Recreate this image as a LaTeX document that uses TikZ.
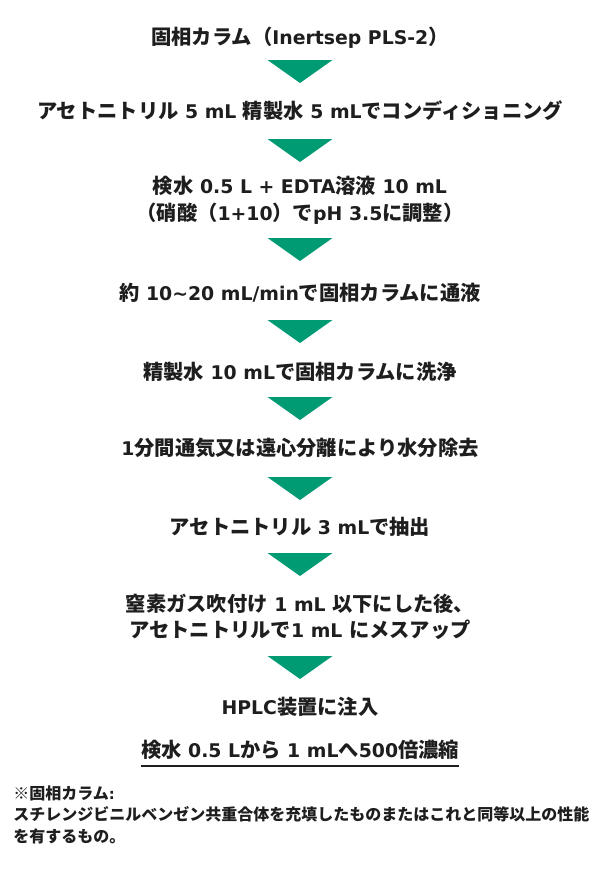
\documentclass[tikz,border=0pt]{standalone}
\usepackage{fontspec}
\setmainfont{Noto Sans CJK JP}
\newfontfamily\lat{DejaVu Sans}[Scale=0.93]
\newcommand\La[1]{{\lat #1}}
\definecolor{txt}{HTML}{1E1E1E}
\definecolor{grn}{HTML}{009A73}
\tikzset{
  stepline/.style={anchor=base,inner sep=0pt,text=txt,font=\fontsize{15.2}{18}\selectfont\bfseries},
  noteline/.style={anchor=base west,inner sep=0pt,text=txt,font=\fontsize{12}{15}\selectfont\bfseries},
  downtri/.style={fill=grn,draw=none}
}
\newcommand\tri[1]{\fill[downtri] (267.5,#1) -- (332.5,#1) -- (300,{#1+23}) -- cycle;}
\begin{document}
\begin{tikzpicture}[x=0.75pt,y=-0.75pt]
\useasboundingbox[fill=white] (0,0) rectangle (600,875);
\node[stepline] (l1) at (300,44) {固相カラム（\La{Inertsep PLS-2}）};
\tri{60}
\node[stepline] (l2) at (300,118) {アセトニトリル\La{ 5 mL }精製水\La{ 5 mL}でコンディショニング};
\tri{139}
\node[stepline] (l3a) at (300,193) {検水\La{ 0.5 L + EDTA}溶液\La{ 10 mL}};
\node[stepline] (l3b) at (300,220) {（硝酸（\La{1+10}）で\La{pH 3.5}に調整）};
\tri{238}
\node[stepline] (l4) at (300,300) {約\La{ 10\textasciitilde 20 mL/min}で固相カラムに通液};
\tri{320}
\node[stepline] (l5) at (300,379) {精製水\La{ 10 mL}で固相カラムに洗浄};
\tri{397}
\node[stepline] (l6) at (300,455) {\La{1}分間通気又は遠心分離により水分除去};
\tri{477}
\node[stepline] (l7) at (300,534) {アセトニトリル\La{ 3 mL}で抽出};
\tri{553}
\node[stepline] (l8a) at (300,611) {窒素ガス吹付け\La{ 1 mL }以下にした後、};
\node[stepline] (l8b) at (300,637) {アセトニトリルで\La{1 mL }にメスアップ};
\tri{656}
\node[stepline] (l9) at (300,714) {\La{HPLC}装置に注入};
\node[stepline] (l10) at (300,757) {検水\La{ 0.5 L}から\La{ 1 mL}へ\La{500}倍濃縮};
\draw[txt,line width=1.1pt] (l10.west |- 0,766) -- (l10.east |- 0,766);
\node[noteline] (n1) at (13,799) {※固相カラム\La{:}};
\node[noteline] (n2) at (13,820) {スチレンジビニルベンゼン共重合体を充填したものまたはこれと同等以上の性能};
\node[noteline] (n3) at (13,842) {を有するもの。};
\end{tikzpicture}
\end{document}
